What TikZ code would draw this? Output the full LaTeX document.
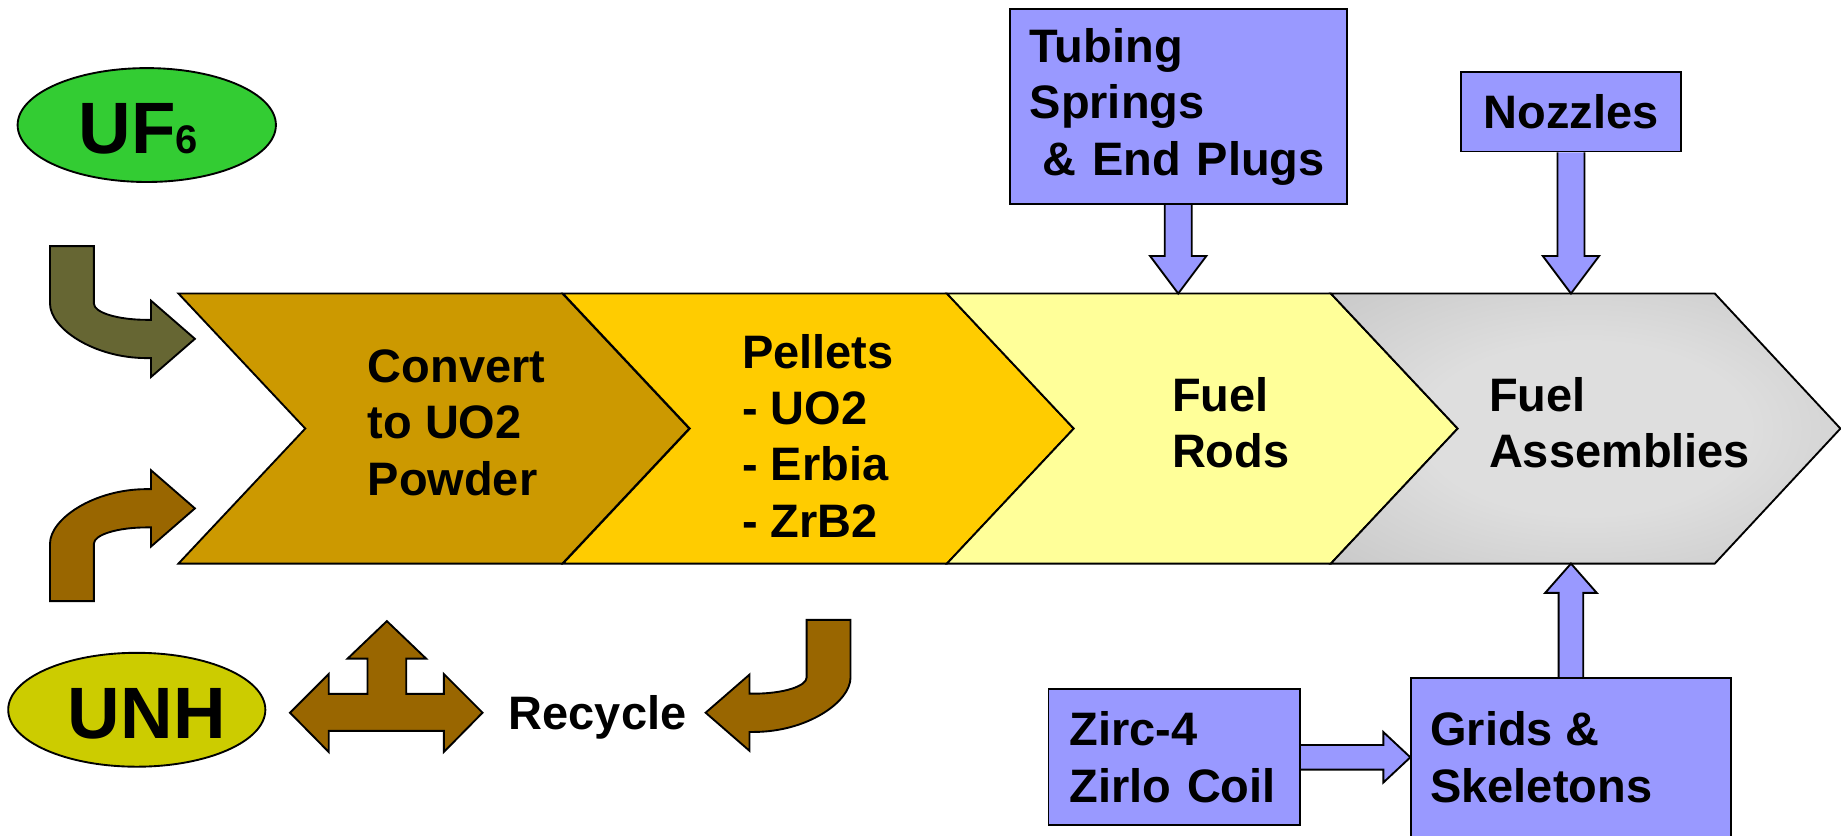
\documentclass[tikz,border=0pt]{standalone}
\usepackage{fontspec}
\setmainfont{Liberation Sans}
\usetikzlibrary{calc,shapes.geometric}
\definecolor{chevA}{HTML}{CC9900}
\definecolor{chevB}{HTML}{FFCC00}
\definecolor{chevC}{HTML}{FFFF99}
\definecolor{glowin}{HTML}{DEDEDE}
\definecolor{glowout}{HTML}{C0C0C0}
\definecolor{boxblue}{HTML}{9999FF}
\definecolor{ufgreen}{HTML}{33CC33}
\definecolor{unhyellow}{HTML}{CCCC00}
\definecolor{olivearr}{HTML}{666633}
\definecolor{brownarr}{HTML}{996600}
\pgfdeclareradialshading{grayglow}{\pgfpoint{0bp}{0bp}}{color(0bp)=(glowin); color(16bp)=(glowin); color(44bp)=(glowout); color(50bp)=(glowout)}
\pgfdeclarelayer{back}
\pgfdeclarelayer{mid}
\pgfsetlayers{back,mid,main}
\tikzset{
  outl/.style={draw=black, line width=1.6pt, line join=miter},
  bigtxt/.style={font=\fontsize{40}{48}\selectfont\bfseries, align=left, inner sep=0pt},
  bluebox/.style={outl, fill=boxblue, inner sep=0pt},
  barrow/.style={outl, fill=boxblue},
  bentarr/.pic={\path[pic actions] (-123.4,-79) -- (-86,-79) -- (-86,-30)
      .. controls (-86,-22.4) and (-65.75,-16.2) .. (-41,-16.2) -- (-37.4,-16.2)
      -- (-37.4,-32.5) -- (0,0) -- (-37.4,32.5) -- (-37.4,16.4) -- (-41,16.4)
      .. controls (-86.3,16.4) and (-123.4,-9.1) .. (-123.4,-30) -- cycle;}
}
\begin{document}
\begin{tikzpicture}[x=1pt,y=-1pt]
\useasboundingbox (0,0) rectangle (1568,712);
\coordinate (bandN) at (0,250);
\coordinate (bandS) at (0,480);
% chevron band
\begin{pgfonlayer}{back}
\foreach \xx/\cc in {152/chevA, 479.5/chevB, 806.5/chevC}{
  \draw[outl, fill=\cc] (\xx,250) -- ++(327,0) -- ++(108,115) -- ++(-108,115) -- ++(-327,0) -- ++(108,-115) -- cycle;
}
\shadedraw[outl, shading=grayglow] (1133.5,250) -- ++(327,0) -- ++(107,115) -- ++(-107,115) -- ++(-327,0) -- ++(108,-115) -- cycle;
\end{pgfonlayer}
% chevron texts
\node[bigtxt, anchor=west] (convert) at (313,360) {Convert\\to UO2\\Powder};
\node[bigtxt, anchor=west] (pellets) at (632,371) {Pellets\\- UO2\\- Erbia\\- ZrB2};
\node[bigtxt, anchor=west] (rods) at (998,360) {Fuel\\Rods};
\node[bigtxt, anchor=west] (assem) at (1268,360) {Fuel\\Assemblies};
% feed ellipses
\node[ellipse, outl, fill=ufgreen, minimum width=220, minimum height=97, inner sep=0pt] (uf6) at (125,106.5) {};
\node[font=\fontsize{62}{62}\selectfont\bfseries, inner sep=0pt, anchor=base] (uftxt) at (118,131) {UF{\fontsize{34}{34}\selectfont 6}};
\node[ellipse, outl, fill=unhyellow, minimum width=219, minimum height=97, inner sep=0pt] (unh) at (116.5,604.5) {};
\node[font=\fontsize{62}{62}\selectfont\bfseries, inner sep=0pt, anchor=base] (unhtxt) at (125,629) {UNH};
% bent arrows
\pic[outl, fill=olivearr] (arrUF) at (166,288.6) {bentarr};
\pic[outl, fill=brownarr, yscale=-1] (arrUNH) at (166,433) {bentarr};
\pic[outl, fill=brownarr, xscale=-1] (arrRec) at (601,607) {bentarr};
% triple arrow
\draw[outl, fill=brownarr] (247,607) -- (280,574) -- (280,591) -- (313,591) -- (313,561) -- (296,561) -- (329.5,529) -- (363,561) -- (346,561) -- (346,591) -- (378,591) -- (378,574) -- (411,607) -- (378,640.5) -- (378,622.5) -- (280,622.5) -- (280,640.5) -- cycle;
\node[bigtxt] (recycle) at (509,611) {Recycle};
% blue boxes
\node[bluebox, minimum width=287, minimum height=166, text width=253, bigtxt] (tub) at (1003.5,91) {Tubing\\Springs\\\hspace*{0.28em}\& End Plugs};
\node[bluebox, minimum width=188, minimum height=68, bigtxt, align=center] (noz) at (1338,95) {Nozzles};
\node[bluebox, minimum width=214, minimum height=116, text width=178, bigtxt] (zirc) at (1000,645) {Zirc-4\\Zirlo Coil};
\node[bluebox, minimum width=272, minimum height=170, anchor=north] (grids) at (1338,577) {};
\node[bigtxt, anchor=west] (gridstxt) at (1218,645) {Grids \&\\Skeletons};
% blue block arrows
\begin{pgfonlayer}{mid}
\draw[barrow] ($(tub.south)+(-11.5,0)$) -- ($(tub.south|-bandN)+(-11.5,-32)$) -- ($(tub.south|-bandN)+(-24,-32)$) -- (tub.south|-bandN) -- ($(tub.south|-bandN)+(24,-32)$) -- ($(tub.south|-bandN)+(11.5,-32)$) -- ($(tub.south)+(11.5,0)$);
\draw[barrow] ($(noz.south)+(-11.5,0)$) -- ($(noz.south|-bandN)+(-11.5,-32)$) -- ($(noz.south|-bandN)+(-24,-32)$) -- (noz.south|-bandN) -- ($(noz.south|-bandN)+(24,-32)$) -- ($(noz.south|-bandN)+(11.5,-32)$) -- ($(noz.south)+(11.5,0)$);
\draw[barrow] ($(grids.north)+(-10.5,0)$) -- ($(grids.north|-bandS)+(-10.5,25)$) -- ($(grids.north|-bandS)+(-22,25)$) -- (grids.north|-bandS) -- ($(grids.north|-bandS)+(22,25)$) -- ($(grids.north|-bandS)+(10.5,25)$) -- ($(grids.north)+(10.5,0)$);
\draw[barrow] ($(zirc.east)+(0,-10.5)$) -- ($(grids.west|-zirc.east)+(-23,-10.5)$) -- ($(grids.west|-zirc.east)+(-23,-21.5)$) -- (grids.west|-zirc.east) -- ($(grids.west|-zirc.east)+(-23,21.5)$) -- ($(grids.west|-zirc.east)+(-23,10.5)$) -- ($(zirc.east)+(0,10.5)$);
\end{pgfonlayer}
\end{tikzpicture}
\end{document}
